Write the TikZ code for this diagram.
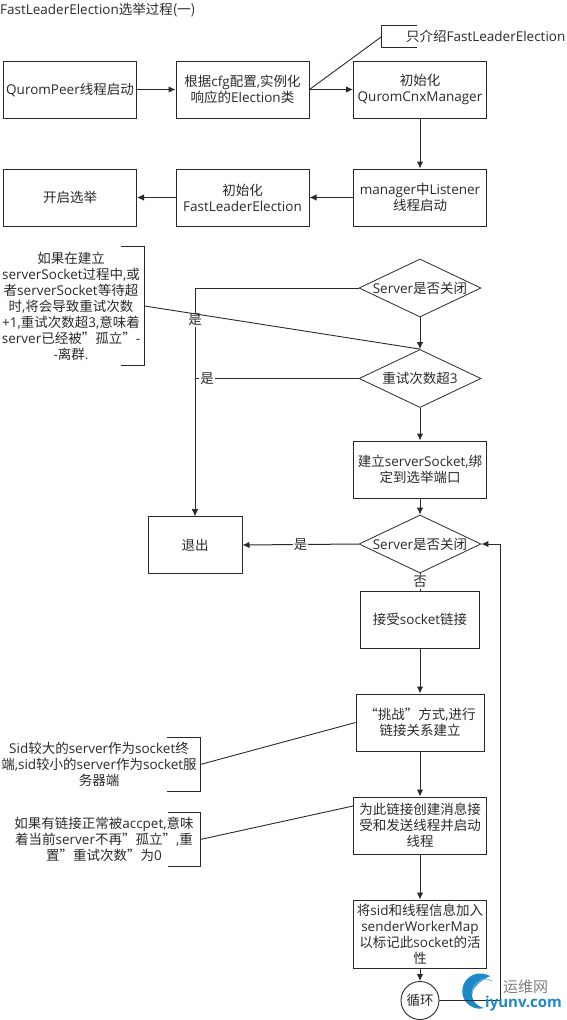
\documentclass[tikz,border=0pt]{standalone}
\usepackage{fontspec}
\setmainfont{Open Sans}
\newfontfamily\zhfont{Noto Sans CJK SC}
\newcommand{\zh}[1]{{\zhfont #1}}
\usetikzlibrary{arrows.meta,shapes.geometric}
\definecolor{inkgray}{HTML}{2A2A2A}
\definecolor{markblue}{HTML}{1E88C8}
\begin{document}
\begin{tikzpicture}[
    x=1pt, y=-1pt,
    every node/.style={font=\fontsize{13.5}{16}\selectfont, text=inkgray, inner sep=0pt, align=center},
    box/.style={rectangle, draw=inkgray, line width=1pt, minimum width=#1, minimum height=57pt},
    box/.default=133pt,
    choice/.style={diamond, draw=inkgray, line width=0.8pt, minimum width=122pt, minimum height=58pt, aspect=2.1},
    note/.style={rectangle, minimum width=#1},
    bracket/.style={draw=inkgray, line width=0.9pt},
    link/.style={draw=inkgray, line width=0.9pt},
    flow/.style={draw=inkgray, line width=1pt, -{Latex[length=7pt,width=6.5pt]}}
]
    \useasboundingbox (0,0) rectangle (566,1020);

    \node[anchor=west] (title) at (0,10) {FastLeaderElection\zh{选举过程(一)}};

    % top rows
    \node[box] (peer) at (70,89.5) {QuromPeer\zh{线程启动}};
    \node[box] (config) at (242.5,89.5) {\zh{根据}cfg\zh{配置},\zh{实例化}\\\zh{响应的}Election\zh{类}};
    \node[box] (cnx) at (420,89.5) {\zh{初始化}\\QuromCnxManager};
    \node[box] (listener) at (420,197.5) {manager\zh{中}Listener\\\zh{线程启动}};
    \node[box] (fle) at (242.5,197.5) {\zh{初始化}\\FastLeaderElection};
    \node[box] (start) at (70,197.5) {\zh{开启选举}};

    \draw[flow] (peer) -- (config);
    \draw[flow] (config) -- (cnx);
    \draw[flow] (cnx) -- (listener);
    \draw[flow] (listener) -- (fle);
    \draw[flow] (fle) -- (start);

    % checks
    \node[choice] (closeda) at (420,288) {Server\zh{是否关闭}};
    \node[choice] (retry) at (420,378.5) {\zh{重试次数超}3};
    \node[box] (bind) at (420,469.5) {\zh{建立}serverSocket,\zh{绑}\\\zh{定到选举端口}};
    \node[choice] (closedb) at (420,544) {Server\zh{是否关闭}};
    \node[box=94pt] (leave) at (195,545) {\zh{退出}};

    \draw[flow] (closeda) -- (retry);
    \draw[flow] (retry) -- (bind);
    \draw[flow] (bind) -- (closedb);
    \draw[flow] (closeda.west) -| (leave.north) node[pos=0.57, fill=white, inner ysep=1pt] (yesa) {\zh{是}};
    \draw[flow] (retry.west) -| (leave.north) node[pos=0.463, fill=white, inner xsep=1pt] (yesb) {\zh{是}};
    \draw[flow] (closedb.west) -- (leave.east) node[midway, fill=white, inner xsep=1pt] (yesc) {\zh{是}};

    % lower column
    \node[box=119pt] (accept) at (420,619.5) {\zh{接受}socket\zh{链接}};
    \node[box=128pt] (challenge) at (420,722.5) {\zh{“挑战”方式},\zh{进行}\\\zh{链接关系建立}};
    \node[box] (threads) at (420,825.5) {\zh{为此链接创建消息接}\\\zh{受和发送线程并启动}\\\zh{线程}};
    \node[box, minimum height=68pt] (worker) at (420,934) {\zh{将}sid\zh{和线程信息加入}\\senderWorkerMap\\\zh{以标记此}socket\zh{的活}\\\zh{性}};
    \node[circle, draw=inkgray, line width=0.9pt, minimum size=38pt] (again) at (420,1000.5) {\zh{循环}};

    \draw[draw=inkgray, line width=0.9pt] (closedb) -- (accept) node[midway, fill=white, inner ysep=1pt] (no) {\zh{否}};
    \draw[flow] (accept) -- (challenge);
    \draw[flow] (challenge) -- (threads);
    \draw[flow] (threads) -- (worker);
    \draw[flow] (worker) -- (again);

    % site mark
    \fill[markblue] (490,976) .. controls (470,966) and (455,988) .. (466,1002) .. controls (471,1008) and (478,1010) .. (484,1008) .. controls (472,1005) and (462,990) .. (490,976);
    \draw[markblue!60, line width=0.8pt] (492,981) .. controls (483,975) and (472,984) .. (472,994);
    \draw[flow] (again.east) -- (500,1000.5) |- (closedb.east);
    \node[anchor=west, font=\fontsize{15}{15}\selectfont, text=gray] (markzh) at (503,987) {\zh{运维网}};
    \node[anchor=west, font=\bfseries\fontsize{15}{15}\selectfont, text=markblue] (markurl) at (485,1004) {iyunv.com};

    % side notes
    \node[note=35pt, minimum height=21pt] (tipa) at (399.5,36.5) {};
    \node[anchor=west] (tipatext) at (406,36) {\zh{只介绍}FastLeaderElection};
    \draw[bracket] (tipa.north east) -- (tipa.north west) -- (tipa.south west) -- (tipa.south east);
    \draw[link] (config.east) -- (tipa.west);

    \node[note=144pt, minimum height=118pt] (tipb) at (72.5,306) {};
    \node (tipbtext) at (71,306) {\zh{如果在建立}\\serverSocket\zh{过程中},\zh{或}\\\zh{者}serverSocket\zh{等待超}\\\zh{时},\zh{将会导致重试次数}\\+1,\zh{重试次数超}3,\zh{意味着}\\server\zh{已经被”孤立”}-\\-\zh{离群}.};
    \draw[bracket] ([xshift=-24pt]tipb.north east) -- (tipb.north east) -- (tipb.south east) -- ([xshift=-24pt]tipb.south east);
    \draw[link] (tipb.east) -- (retry.north);

    \node[note=197pt, minimum height=53pt] (tipc) at (101.5,764.5) {};
    \node (tipctext) at (99,764) {Sid\zh{较大的}server\zh{作为}socket\zh{终}\\\zh{端},sid\zh{较小的}server\zh{作为}socket\zh{服}\\\zh{务器端}};
    \draw[bracket] ([xshift=-33pt]tipc.north east) -- (tipc.north east) -- (tipc.south east) -- ([xshift=-33pt]tipc.south east);
    \draw[link] (tipc.east) -- (challenge.west);

    \node[note=197pt, minimum height=53pt] (tipd) at (101.5,839.5) {};
    \node (tipdtext) at (104,839) {\zh{如果有链接正常被}accpet,\zh{意味}\\\zh{着当前}server\zh{不再”孤立”},\zh{重}\\\zh{置”重试次数”为}0};
    \draw[bracket] ([xshift=-32pt]tipd.north east) -- (tipd.north east) -- (tipd.south east) -- ([xshift=-32pt]tipd.south east);
    \draw[link] (tipd.east) -- ([yshift=19.5pt]threads.west);
\end{tikzpicture}
\end{document}
